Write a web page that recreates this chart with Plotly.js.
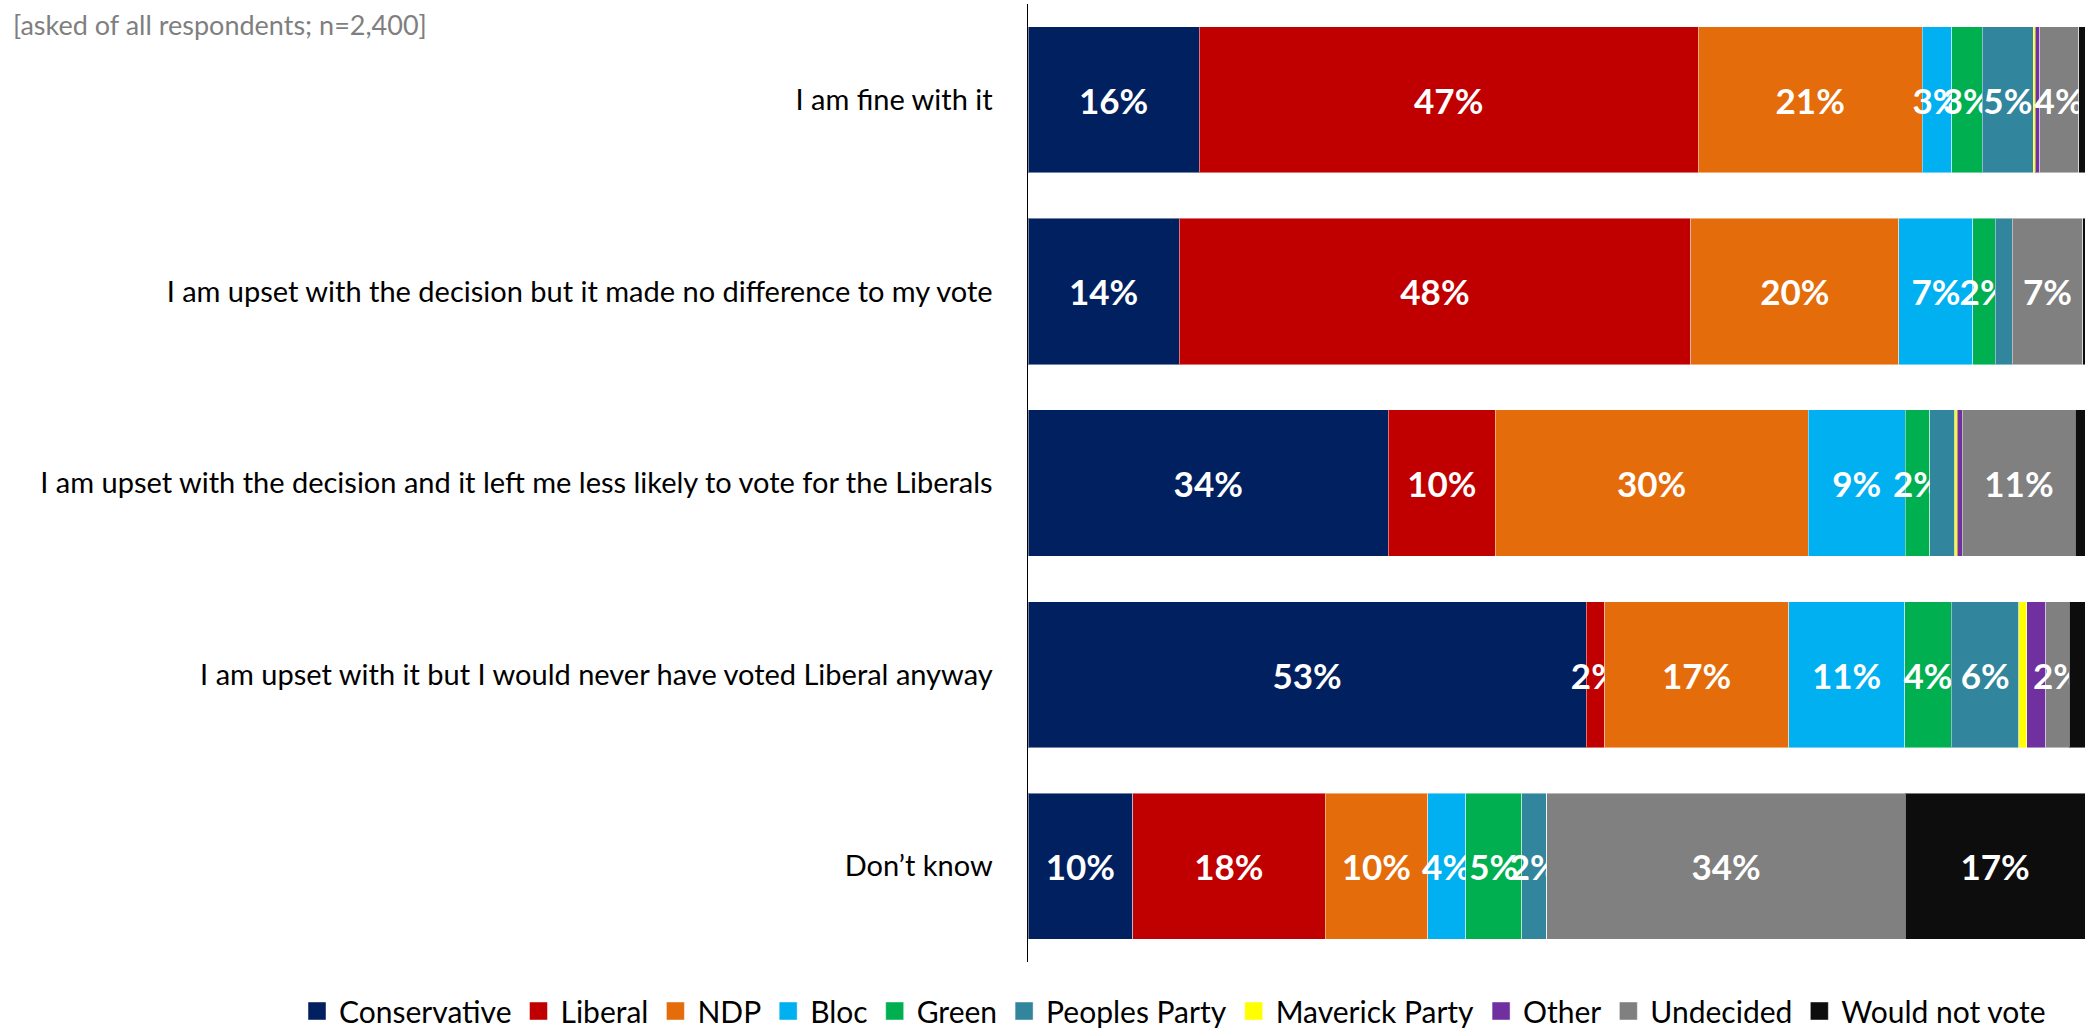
<!DOCTYPE html>
<html>
<head>
<meta charset="utf-8">
<script src="https://cdn.plot.ly/plotly-3.0.1.min.js"></script>
<style>
html,body{margin:0;padding:0;background:#fff;}
#chart{width:2085px;height:1030px;}
</style>
</head>
<body>
<div id="chart"></div>
<script>
// Categories, top to bottom
const categories = [
  "I am fine with it",
  "I am upset with the decision but it made no difference to my vote",
  "I am upset with the decision and it left me less likely to vote for the Liberals",
  "I am upset with it but I would never have voted Liberal anyway",
  "Don\u2019t know"
];

const seriesNames = ["Conservative","Liberal","NDP","Bloc","Green","Peoples Party","Maverick Party","Other","Undecided","Would not vote"];
const seriesColors = ["#012060","#C00000","#E46C0A","#00B0F0","#00B050","#31859C","#FFFF00","#7030A0","#808080","#0D0D0D"];

// Percentages per category
const conservative = [16.2, 14.3, 34.1, 52.8,  9.9];
const liberal      = [47.2, 48.4, 10.1,  1.75, 18.2];
const ndp          = [21.2, 19.7, 29.6, 17.4,  9.7];
const bloc         = [ 2.8,  7.0,  9.2, 11.0,  3.6];
const green        = [ 2.9,  2.1,  2.3,  4.4,  5.3];
const peoplesParty = [ 4.8,  1.6,  2.4,  6.4,  2.4];
const maverick     = [ 0.2,  0.0,  0.2,  0.75, 0.0];
const other        = [ 0.4,  0.0,  0.5,  1.8,  0.0];
const undecided    = [ 3.7,  6.7, 10.7,  2.2, 33.9];
const wouldNotVote = [ 0.6,  0.2,  0.9,  1.5, 17.0];

const seriesValues = [conservative, liberal, ndp, bloc, green, peoplesParty, maverick, other, undecided, wouldNotVote];

// Data labels that the original leaves out (series name -> category indexes)
const hiddenLabels = {"Peoples Party": [2], "Other": [3]};
const labelMin = 1.7;

const FONT = "Lato, 'Open Sans', sans-serif";

const traces = seriesNames.map((name, i) => {
  const vals = seriesValues[i];
  const hide = hiddenLabels[name] || [];
  const text = vals.map((v, j) => (v >= labelMin && hide.indexOf(j) < 0) ? Math.round(v) + "%" : "");
  return {
    type: "bar",
    orientation: "h",
    name: name,
    y: categories,
    x: vals,
    text: text,
    textposition: "inside",
    insidetextanchor: "middle",
    textangle: 0,
    constraintext: "none",
    cliponaxis: false,
    textfont: {family: FONT, size: 35, color: "#ffffff", weight: "bold"},
    marker: {color: seriesColors[i], line: {color: "rgba(255,255,255,0.45)", width: 1}},
    hoverinfo: "skip"
  };
});

const layout = {
  width: 2085,
  height: 1030,
  barmode: "stack",
  bargap: 0.237,
  showlegend: true,
  paper_bgcolor: "#ffffff",
  plot_bgcolor: "#ffffff",
  margin: {l: 1028, r: 0, t: 4, b: 68, pad: 0, autoexpand: false},
  font: {family: FONT, color: "#000000"},
  xaxis: {
    range: [0, 100],
    visible: false,
    showgrid: false,
    zeroline: false,
    fixedrange: true
  },
  yaxis: {
    type: "category",
    autorange: "reversed",
    showline: true,
    linecolor: "#000000",
    linewidth: 1.5,
    ticks: "",
    showgrid: false,
    zeroline: false,
    ticklabelstandoff: 28,
    tickfont: {family: FONT, size: 29, color: "#000000"}
  },
  legend: {
    orientation: "h",
    xref: "paper",
    yref: "paper",
    x: (295 - 1028) / 1057,
    xanchor: "left",
    y: (962 - 1011) / 958,
    yanchor: "middle",
    font: {family: FONT, size: 30, color: "#000000"},
    traceorder: "normal",
    itemwidth: 34,
    bgcolor: "rgba(0,0,0,0)"
  },
  annotations: [{
    text: "[asked of all respondents; n=2,400]",
    xref: "paper", yref: "paper",
    x: (11 - 1028) / 1057, y: (962 - 24) / 958,
    xanchor: "left", yanchor: "middle",
    showarrow: false,
    font: {family: FONT, size: 27, color: "#7F7F7F"}
  }]
};

Plotly.newPlot("chart", traces, layout, {displayModeBar: false, staticPlot: true}).then(() => {
  // enlarge the legend swatches to the square size used in the original
  document.querySelectorAll("#chart .legend .legendpoints path").forEach(p => {
    p.setAttribute("d", "M9,9H-9V-9H9Z");
  });
});
</script>
</body>
</html>
